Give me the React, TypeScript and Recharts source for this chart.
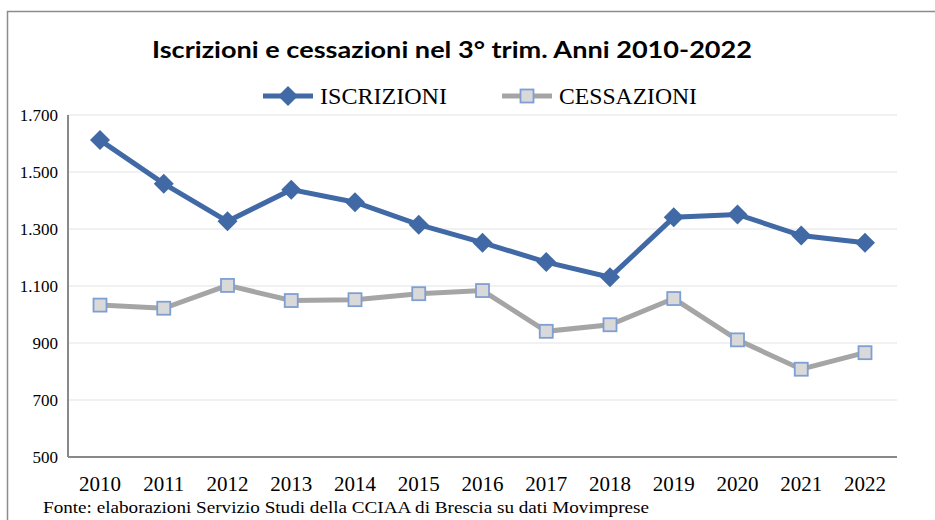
import React from 'react';
import { LineChart, Line, XAxis, YAxis, CartesianGrid, Legend } from 'recharts';

const years = ['2010', '2011', '2012', '2013', '2014', '2015', '2016', '2017', '2018', '2019', '2020', '2021', '2022'];
const iscrizioni = [1612, 1459, 1327, 1438, 1394, 1315, 1252, 1184, 1131, 1341, 1351, 1277, 1252];
const cessazioni = [1033, 1022, 1102, 1049, 1052, 1073, 1084, 941, 964, 1056, 911, 808, 866];
const yTicks = [500, 700, 900, 1100, 1300, 1500, 1700];

const seriesNames = ['ISCRIZIONI', 'CESSAZIONI'];
const titleText = 'Iscrizioni e cessazioni nel 3° trim. Anni 2010-2022';
const sourceText = 'Fonte: elaborazioni Servizio Studi della CCIAA di Brescia su dati Movimprese';

const data = years.map((y, i) => ({ year: y, ISCRIZIONI: iscrizioni[i], CESSAZIONI: cessazioni[i] }));

const BLUE = '#4169A5';
const GRAY = '#A5A5A5';
const SQ_FILL = '#D9D9D9';
const SQ_STROKE = '#7F9FD2';
const SERIF = '"Liberation Serif", "DejaVu Serif", serif';

const fmt = (v: number) => (v >= 1000 ? `${Math.floor(v / 1000)}.${String(v % 1000).padStart(3, '0')}` : String(v));

const DiamondDot = (props: any) => {
  const { cx, cy, index } = props;
  if (cx == null || cy == null) return <g key={`d${index}`} />;
  const r = 10;
  return <path key={`d${index}`} d={`M${cx},${cy - r}L${cx + r},${cy}L${cx},${cy + r}L${cx - r},${cy}Z`} fill={BLUE} />;
};

const SquareDot = (props: any) => {
  const { cx, cy, index } = props;
  if (cx == null || cy == null) return <g key={`s${index}`} />;
  const h = 6.5;
  return <rect key={`s${index}`} x={cx - h} y={cy - h} width={2 * h} height={2 * h} fill={SQ_FILL} stroke={SQ_STROKE} strokeWidth={1.8} />;
};

const LegendContent = () => (
  <svg width={935} height={35} style={{ display: 'block' }}>
    <line x1={263} y1={16} x2={313} y2={16} stroke={BLUE} strokeWidth={5} />
    <path d="M288,6L298,16L288,26L278,16Z" fill={BLUE} />
    <text x={320} y={24} fontFamily={SERIF} fontSize={23} fill="#000" textLength={127} lengthAdjust="spacingAndGlyphs">{seriesNames[0]}</text>
    <line x1={502} y1={16} x2={552} y2={16} stroke={GRAY} strokeWidth={5} />
    <rect x={520.5} y={9.5} width={13} height={13} fill={SQ_FILL} stroke={SQ_STROKE} strokeWidth={1.8} />
    <text x={559} y={24} fontFamily={SERIF} fontSize={23} fill="#000" textLength={138} lengthAdjust="spacingAndGlyphs">{seriesNames[1]}</text>
  </svg>
);

export default function App() {
  return (
    <div style={{ position: 'absolute', left: 0, top: 0, width: 935, height: 520, background: '#fff', overflow: 'hidden' }}>
      <LineChart width={935} height={520} data={data} margin={{ top: 80, right: 38, bottom: 23, left: 0 }}>
        <CartesianGrid vertical={false} stroke="#EDEDED" strokeWidth={1.5} />
        <XAxis
          dataKey="year"
          padding={{ left: 32, right: 32 }}
          height={40}
          tickSize={0}
          tickMargin={19}
          axisLine={{ stroke: '#898989', strokeWidth: 2 }}
          tickLine={false}
          tick={{ fill: '#000', fontFamily: SERIF, fontSize: 21 }}
          interval={0}
        />
        <YAxis
          width={68}
          domain={[500, 1700]}
          ticks={yTicks}
          tickFormatter={fmt}
          tickSize={0}
          tickMargin={10}
          axisLine={{ stroke: '#898989', strokeWidth: 2 }}
          tickLine={false}
          tick={{ fill: '#000', fontFamily: SERIF, fontSize: 17 }}
          interval={0}
        />
        <Legend verticalAlign="top" align="left" height={35} content={LegendContent} />
        <Line dataKey="ISCRIZIONI" stroke={BLUE} strokeWidth={5} dot={DiamondDot} activeDot={false} isAnimationActive={false} />
        <Line dataKey="CESSAZIONI" stroke={GRAY} strokeWidth={5} dot={SquareDot} activeDot={false} isAnimationActive={false} />
      </LineChart>
      <svg width={935} height={520} style={{ position: 'absolute', left: 0, top: 0, pointerEvents: 'none' }}>
        <path d="M7.5,540V11.5H940" fill="none" stroke="#8C8C8C" strokeWidth={1.5} />
        <text x={452} y={58} textAnchor="middle" fontFamily="Lato, 'Open Sans', sans-serif" fontWeight={700} fontSize={23} fill="#000" textLength={600} lengthAdjust="spacingAndGlyphs">{titleText}</text>
        <text x={43} y={513} fontFamily={SERIF} fontSize={17} fill="#000" textLength={606} lengthAdjust="spacingAndGlyphs">{sourceText}</text>
      </svg>
    </div>
  );
}
